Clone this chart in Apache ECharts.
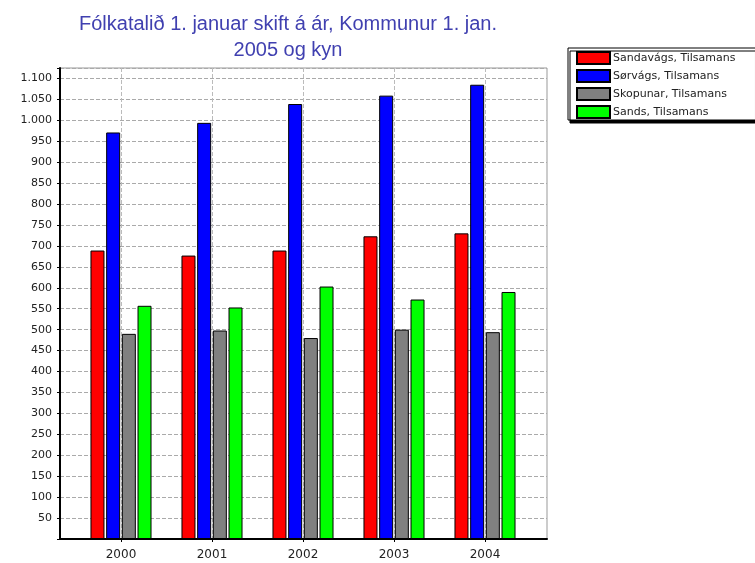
<!DOCTYPE html>
<html>
<head>
<meta charset="utf-8">
<script src="https://cdn.jsdelivr.net/npm/echarts@6/dist/echarts.min.js"></script>
<style>
  html, body { margin: 0; padding: 0; background: #fff; }
  #chart { width: 755px; height: 563px; }
</style>
</head>
<body>
<div id="chart"></div>
<script>
// data
var years = ['2000', '2001', '2002', '2003', '2004']
var sandavags = [689, 677, 689, 723, 730]
var sorvags = [971, 994, 1039, 1059, 1085]
var skopunar = [490, 498, 480, 500, 494]
var sands = [557, 553, 603, 572, 590]

var seriesNames = [
  'Sandavágs, Tilsamans',
  'Sørvágs, Tilsamans',
  'Skopunar, Tilsamans',
  'Sands, Tilsamans'
]
var seriesData = [sandavags, sorvags, skopunar, sands]
var colorPalette = ['#ff0000', '#0000ff', '#808080', '#00ff00']

var Y_MAX = 1125

function fmtThousands(v) {
  // 1100 -> 1.100
  return String(v).replace(/\B(?=(\d{3})+(?!\d))/g, '.')
}

var chart = echarts.init(document.getElementById('chart'))

chart.setOption({
  animation: false,
  color: colorPalette,
  textStyle: { fontFamily: 'DejaVu Sans, sans-serif' },
  title: {
    text: 'Fólkatalið 1. januar skift á ár, Kommunur 1. jan.\n2005 og kyn',
    left: 283,
    top: 6,
    textAlign: 'center',
    textStyle: {
      color: '#4040b0',
      fontFamily: 'Liberation Sans, Arial, sans-serif',
      fontSize: 20,
      fontWeight: 'normal',
      lineHeight: 26
    }
  },
  legend: {
    orient: 'vertical',
    left: 568,
    top: 48,
    itemWidth: 33,
    itemHeight: 12,
    itemGap: 4,
    padding: [3, 20, 1, 8],
    borderColor: '#000',
    borderWidth: 1,
    backgroundColor: '#fff',
    shadowColor: '#000',
    shadowOffsetX: 2,
    shadowOffsetY: 3,
    shadowBlur: 0,
    icon: 'rect',
    data: seriesNames,
    textStyle: { fontSize: 11, color: '#222', padding: [0, 0, 0, -2] }
  },
  grid: [
    // outer frame: y labels, horizontal dashed lines, border
    { left: 60, right: 208, top: 68, bottom: 24, show: true, borderColor: '#999', borderWidth: 1 },
    // inner band for the year groups
    { left: 121, right: 270, top: 68, bottom: 24 }
  ],
  xAxis: [
    {
      gridIndex: 0,
      type: 'value',
      min: 0,
      max: 1,
      axisLine: { show: true, onZero: false, lineStyle: { color: '#000', width: 2 } },
      axisTick: { show: false },
      axisLabel: { show: false },
      splitLine: { show: false }
    },
    {
      gridIndex: 1,
      type: 'category',
      boundaryGap: false,
      data: years,
      axisLine: { show: false },
      axisTick: { show: true, length: 3, lineStyle: { color: '#000' } },
      axisLabel: { color: '#222', fontSize: 12, margin: 10 },
      splitLine: { show: true, lineStyle: { color: '#bbb', type: 'dashed' } }
    }
  ],
  yAxis: [
    {
      gridIndex: 0,
      type: 'value',
      min: 0,
      max: Y_MAX,
      interval: 50,
      axisLine: { show: true, lineStyle: { color: '#000', width: 2 } },
      axisTick: { show: true, length: 3, lineStyle: { color: '#000' } },
      axisLabel: {
        color: '#222',
        fontSize: 11,
        margin: 8,
        formatter: function(v) {
          if (v === 0 || v > 1100 || v % 50 !== 0) {
            return ''
          }
          return fmtThousands(v)
        }
      },
      splitLine: { show: true, lineStyle: { color: '#aaa', type: 'dashed' } }
    },
    {
      gridIndex: 1,
      type: 'value',
      min: 0,
      max: Y_MAX,
      show: false,
      splitLine: { show: false }
    }
  ],
  series: seriesNames.map(function(name, i) {
    return {
      name: name,
      type: 'bar',
      xAxisIndex: 1,
      yAxisIndex: 1,
      clip: false,
      barWidth: 14,
      barGap: '12%',
      itemStyle: { borderColor: '#000', borderWidth: 1 },
      data: seriesData[i]
    }
  })
})
</script>
</body>
</html>
